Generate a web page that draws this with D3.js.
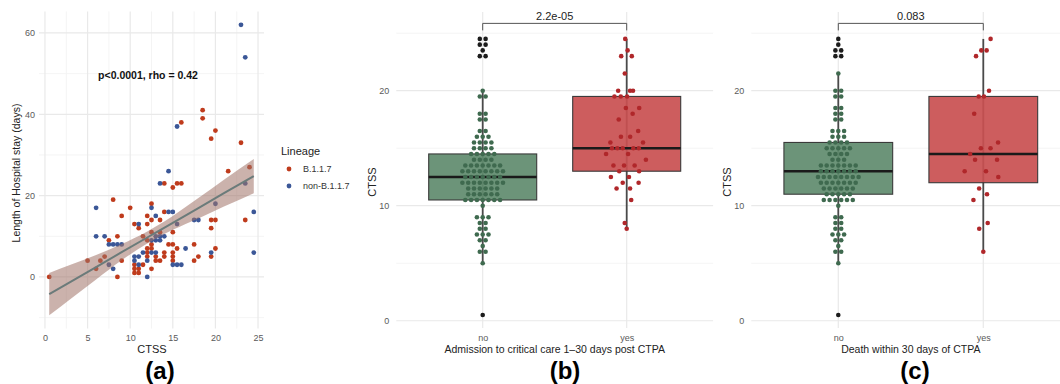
<!DOCTYPE html>
<html>
<head>
<meta charset="utf-8">
<script src="https://cdn.jsdelivr.net/npm/d3@7"></script>
<style>
  body { margin: 0; background: #fff; }
  svg { display: block; font-family: "Liberation Sans", Arial, sans-serif; }
</style>
</head>
<body>
<svg id="chart"></svg>
<script>
// DATA
const lineages = ["B.1.1.7", "non-B.1.1.7"];
const b117Ctss = [0.5, 5, 6, 6.5, 7, 7.5, 8, 8.5, 8.5, 9, 9, 10, 10.5, 11, 12, 12, 12.5, 12.5, 13.5, 14, 14, 15, 15.5, 16, 16,
  18.5, 18.5, 19.5, 20, 23, 21.5, 24, 23.5, 19.5, 20, 19.5, 20, 19.5, 17.5, 18, 17.5, 15, 14.5, 15, 15.5, 15, 15, 15, 14, 14,
  11.5, 12.5, 12.5, 12, 12, 12, 13.5, 13, 13, 12.5, 10.5, 10.5, 10.5, 11, 11, 11.5, 12.5, 13.5, 12];
const b117Stay = [0, 4, 2, 4, 5, 9, 19, 10, 0, 15, 4, 17, 13, 12, 13, 15, 18, 14, 14, 16, 23, 22, 23, 23, 38,
  41, 39, 34, 36, 33, 26, 27, 14, 14, 14, 12, 7, 5, 8, 5, 4, 11, 8, 8, 7, 6, 5, 4, 6, 5,
  10, 8, 7, 7, 6, 5, 4, 5, 4, 2, 3, 2, 1, 2, 1, 3, 11, 11, 9];
const nonCtss = [23, 23.5, 15.5, 14.5, 13.5, 23.5, 20, 24.5, 24.5, 6, 6, 7, 7.5, 8, 8.5, 9, 7.5, 8, 12, 11, 12.5, 13, 14.5, 15,
  15.5, 17.5, 18, 19.5, 16.5, 15, 15.5, 16, 10.5, 10.5, 11, 11.5, 12, 13, 12.5, 13, 13.5, 14, 13, 13.5, 11, 12.5];
const nonStay = [62, 54, 37, 26, 23, 23, 18, 16, 6, 17, 10, 10, 8, 8, 8, 8, 3, 2, 0, 13, 17, 15, 16, 16,
  13, 14, 14, 6, 7, 3, 3, 3, 5, 4, 3, 6, 4, 6, 9, 10, 10, 10, 9, 9, 5, 6];

// fitted line and confidence band
const fitCtss = [0.5, 3, 6, 9, 12, 13, 15, 18, 21, 24.5];
const fitLow = [-9.4, -5.4, -0.6, 4.1, 8.2, 9.4, 11.6, 14.4, 17.3, 20.6];
const fitMid = [-4.2, -1.2, 2.4, 6.1, 9.7, 10.9, 13.3, 16.9, 20.6, 24.8];
const fitHigh = [1.0, 3.0, 5.4, 8.1, 11.2, 12.4, 15.0, 19.4, 23.9, 29.0];

const groups = ["no", "yes"];
// CTSS per patient, admission to critical care
const critNo = [0.5, 5, 6, 6, 6.5, 7, 7, 7.5, 7.5, 7.5, 8, 8, 8.5, 8.5, 9, 9, 9, 10,
  10.5, 10.5, 10.5, 10.5, 10.5, 10.5, 10.5, 11, 11, 11, 11, 11, 11, 11.5, 11.5, 11.5, 11.5, 11.5, 11.5,
  12, 12, 12, 12, 12, 12, 12, 12, 12.5, 12.5, 12.5, 12.5, 12.5, 12.5, 12.5,
  13, 13, 13, 13, 13, 13, 13, 13, 13.5, 13.5, 13.5, 13.5, 13.5, 13.5, 13.5,
  14, 14, 14, 14, 14.5, 14.5, 14.5, 14.5, 14.5, 15, 15, 15, 15, 15.5, 15.5, 15.5, 15.5,
  16, 16, 16, 16.5, 16.5, 17.5, 17.5, 18, 18, 19.5, 19.5, 20, 23, 23, 23.5, 24, 24, 24.5, 24.5];
const critYes = [8, 8.5, 10.5, 11.5, 11.5, 12, 12, 12.5, 12.5, 13, 13, 13.5, 13.5, 13.5, 14, 14.5, 14.5,
  15, 15, 15, 15, 15, 15.5, 15.5, 16, 16, 16.5, 17.5, 18, 18.5, 18.5, 19.5, 19.5, 19.5,
  20, 20, 20, 21.5, 23, 23, 23.5, 24.5];
// CTSS per patient, death within 30 days
const deathNo = [0.5, 5, 6, 6, 6.5, 7, 7, 7.5, 7.5, 7.5, 8, 8, 8.5, 8.5, 9, 9, 10,
  10.5, 10.5, 10.5, 10.5, 10.5, 10.5, 11, 11, 11, 11, 11, 11.5, 11.5, 11.5, 11.5, 11.5, 11.5,
  12, 12, 12, 12, 12, 12, 12, 12.5, 12.5, 12.5, 12.5, 12.5, 12.5, 12.5, 12.5,
  13, 13, 13, 13, 13, 13, 13, 13.5, 13.5, 13.5, 13.5, 13.5, 13.5, 13.5,
  14, 14, 14, 14.5, 14.5, 14.5, 14.5, 15, 15, 15, 15, 15, 15.5, 15.5, 15.5, 15.5,
  16, 16, 16, 16.5, 16.5, 16.5, 17.5, 17.5, 18, 18, 18.5, 18.5, 19.5, 19.5, 20, 20, 21.5,
  23, 23, 23.5, 23.5, 24, 24.5];
const deathYes = [6, 8, 8.5, 10.5, 11, 11.5, 12.5, 13, 13, 14, 14, 14.5, 15, 15, 15.5, 18, 19.5, 19.5, 20,
  23, 23.5, 23.5, 24.5];

// box stats: [whisker low, Q1, median, Q3, whisker high]
const critStatsNo = [5, 10.5, 12.5, 14.5, 20];
const critStatsYes = [8, 13, 15, 19.5, 24.5];
const deathStatsNo = [5, 11, 13, 15.5, 21.5];
const deathStatsYes = [6, 12, 14.5, 19.5, 24.5];
const critP = "2.2e-05";
const deathP = "0.083";

const scatterXTicks = [0, 5, 10, 15, 20, 25];
const scatterXMinor = [2.5, 7.5, 12.5, 17.5, 22.5];
const scatterYTicks = [0, 20, 40, 60];
const scatterYMinor = [-10, 10, 30, 50];
const boxYTicks = [0, 10, 20];
const boxYMinor = [5, 15, 25];

// SIZES
const width = 1060;
const height = 384;
const gridMajor = "#e9e9e9";
const gridMinor = "#f1f1f1";
const tickColor = "#5a5a5a";
const lineageColor = d3.scaleOrdinal().domain(lineages).range(["#bf3b1c", "#3b5797"]);

const svg = d3.select("#chart")
  .attr("width", width)
  .attr("height", height);

// helper for the grid
function drawGrid(g, x, y, xMaj, xMin, yMaj, yMin) {
  const [x0, x1] = x.range();
  const [y0, y1] = y.range();
  g.selectAll(".gxm").data(xMin).enter().append("line")
    .attr("x1", d => x(d)).attr("x2", d => x(d)).attr("y1", y0).attr("y2", y1)
    .attr("stroke", gridMinor).attr("stroke-width", 0.8);
  g.selectAll(".gym").data(yMin).enter().append("line")
    .attr("y1", d => y(d)).attr("y2", d => y(d)).attr("x1", x0).attr("x2", x1)
    .attr("stroke", gridMinor).attr("stroke-width", 0.8);
  g.selectAll(".gx").data(xMaj).enter().append("line")
    .attr("x1", d => x(d)).attr("x2", d => x(d)).attr("y1", y0).attr("y2", y1)
    .attr("stroke", gridMajor).attr("stroke-width", 1.2);
  g.selectAll(".gy").data(yMaj).enter().append("line")
    .attr("y1", d => y(d)).attr("y2", d => y(d)).attr("x1", x0).attr("x2", x1)
    .attr("stroke", gridMajor).attr("stroke-width", 1.2);
}

function styleAxis(sel) {
  sel.select(".domain").remove();
  sel.selectAll("text").attr("fill", tickColor).style("font-size", "9px");
}

// PANEL (a) - SCATTER
const xa = d3.scaleLinear().domain([-0.7, 25.7]).range([39, 264]);
const ya = d3.scaleLinear().domain([-12.7, 65.3]).range([328.6, 11.4]);
const ga = svg.append("g");
drawGrid(ga, xa, ya, scatterXTicks, scatterXMinor, scatterYTicks, scatterYMinor);

ga.append("g").attr("transform", "translate(0,334)")
  .call(d3.axisBottom(xa).tickValues(scatterXTicks).tickSize(0).tickPadding(1))
  .call(styleAxis);
ga.append("g").attr("transform", "translate(36,0)")
  .call(d3.axisLeft(ya).tickValues(scatterYTicks).tickSize(0).tickPadding(1))
  .call(styleAxis);

const points = b117Ctss.map((c, i) => ({ c, s: b117Stay[i], l: lineages[0] }))
  .concat(nonCtss.map((c, i) => ({ c, s: nonStay[i], l: lineages[1] })));

ga.selectAll(".pt").data(points).enter().append("circle")
  .attr("cx", d => xa(d.c)).attr("cy", d => ya(d.s)).attr("r", 2.4)
  .attr("fill", d => lineageColor(d.l));

const band = fitCtss.map((c, i) => ({ c, lo: fitLow[i], mid: fitMid[i], hi: fitHigh[i] }));
ga.append("path").datum(band)
  .attr("d", d3.area().x(d => xa(d.c)).y0(d => ya(d.lo)).y1(d => ya(d.hi)).curve(d3.curveMonotoneX))
  .attr("fill", "#a07268").attr("fill-opacity", 0.55);
ga.append("path").datum(band)
  .attr("d", d3.line().x(d => xa(d.c)).y(d => ya(d.mid)))
  .attr("fill", "none").attr("stroke", "#6b7b7a").attr("stroke-width", 2);

ga.append("text").attr("x", 148).attr("y", 79).attr("text-anchor", "middle")
  .style("font-size", "10.5px").style("font-weight", "bold").attr("fill", "#111")
  .text("p<0.0001, rho = 0.42");

ga.append("text").attr("x", 152).attr("y", 353).attr("text-anchor", "middle")
  .style("font-size", "11px").attr("fill", "#222").text("CTSS");
ga.append("text").attr("transform", "translate(20,173) rotate(-90)").attr("text-anchor", "middle")
  .style("font-size", "10.5px").attr("fill", "#222").text("Length of Hospital stay (days)");

// legend
const lg = ga.append("g").attr("transform", "translate(281,0)");
lg.append("text").attr("x", 0).attr("y", 155).style("font-size", "11px").attr("fill", "#222").text("Lineage");
lg.selectAll(".li").data(lineages).enter().append("circle")
  .attr("cx", 8).attr("cy", (d, i) => 169 + i * 17).attr("r", 2.4).attr("fill", d => lineageColor(d));
lg.selectAll(".lt").data(lineages).enter().append("text")
  .attr("x", 22).attr("y", (d, i) => 172 + i * 17)
  .style("font-size", "9px").attr("fill", "#333").text(d => d);

// PANELS (b) and (c) - BOX + DOTS
// dense group: equal values stacked in centred rows
function stackRows(values) {
  const counts = d3.rollup(values, v => v.length, d => d);
  const seen = new Map();
  return values.map(v => {
    const n = counts.get(v), i = seen.get(v) || 0;
    seen.set(v, i + 1);
    return { v, off: (i - (n - 1) / 2) * 5.8 };
  });
}

// sparse group: quasirandom spread (van der Corput) scaled by density
function vdc(n) {
  let r = 0, f = 0.5;
  while (n > 0) { r += f * (n % 2); n = Math.floor(n / 2); f /= 2; }
  return r;
}
function quasiRandom(values, maxW) {
  const bw = 1.6;
  const dens = v => d3.sum(values, u => Math.exp(-0.5 * ((v - u) / bw) ** 2));
  const sorted = values.slice().sort((a, b) => a - b);
  const dmax = d3.max(sorted, dens);
  return sorted.map((v, i) => ({ v, off: (2 * vdc(i + 1) - 1) * maxW * dens(v) / dmax }));
}

function boxPanel(left, right, valuesNo, valuesYes, statsNo, statsYes, pText, xTitle) {
  const x = d3.scalePoint().domain(groups).range([left, right]).padding(0.6);
  const y = d3.scaleLinear().domain([-0.63, 26.84]).range([328, 12]);
  const g = svg.append("g");
  const step = x.step();
  const boxW = step * 0.75;
  drawGrid(g, x, y, groups, [], boxYTicks, boxYMinor);

  g.append("g").attr("transform", "translate(0,334)")
    .call(d3.axisBottom(x).tickSize(0).tickPadding(1))
    .call(styleAxis);
  g.append("g").attr("transform", `translate(${left - 6},0)`)
    .call(d3.axisLeft(y).tickValues(boxYTicks).tickSize(0).tickPadding(1))
    .call(styleAxis);

  const stats = [statsNo, statsYes];
  const fills = ["#5f8b6e", "#c94f50"];
  const dotFills = ["#3f6a4f", "#b0272a"];

  stats.forEach((s, i) => {
    const cx = x(groups[i]);
    g.append("line").attr("x1", cx).attr("x2", cx).attr("y1", y(s[0])).attr("y2", y(s[4]))
      .attr("stroke", "#4a4a4a").attr("stroke-width", 1.8);
    g.append("rect").attr("x", cx - boxW / 2).attr("width", boxW)
      .attr("y", y(s[3])).attr("height", y(s[1]) - y(s[3]))
      .attr("fill", fills[i]).attr("fill-opacity", 0.92)
      .attr("stroke", "#3a3a3a").attr("stroke-width", 1.1);
    g.append("line").attr("x1", cx - boxW / 2).attr("x2", cx + boxW / 2)
      .attr("y1", y(s[2])).attr("y2", y(s[2]))
      .attr("stroke", "#1a1a1a").attr("stroke-width", 2.4);
  });

  const layouts = [stackRows(valuesNo), quasiRandom(valuesYes, 22)];
  layouts.forEach((pts, i) => {
    const s = stats[i];
    g.selectAll(null).data(pts).enter().append("circle")
      .attr("cx", d => x(groups[i]) + d.off)
      .attr("cy", d => y(d.v))
      .attr("r", 2.3)
      .attr("fill", d => (d.v < s[0] || d.v > s[4]) ? "#1c1c1c" : dotFills[i]);
  });

  // significance bracket
  const by = y(25.85);
  g.append("path")
    .attr("d", `M${x("no")},${by + 7}V${by}H${x("yes")}V${by + 7}`)
    .attr("fill", "none").attr("stroke", "#555").attr("stroke-width", 1);
  g.append("text").attr("x", (x("no") + x("yes")) / 2).attr("y", by - 3)
    .attr("text-anchor", "middle").style("font-size", "11px").attr("fill", "#222").text(pText);

  g.append("text").attr("x", (x("no") + x("yes")) / 2).attr("y", 353).attr("text-anchor", "middle")
    .style("font-size", "10.5px").attr("fill", "#222").text(xTitle);
  g.append("text").attr("transform", `translate(${left - 20},182) rotate(-90)`).attr("text-anchor", "middle")
    .style("font-size", "11px").attr("fill", "#222").text("CTSS");
  return x;
}

const xb = boxPanel(396.3, 713.1, critNo, critYes, critStatsNo, critStatsYes, critP,
  "Admission to critical care 1\u201330 days post CTPA");
const xc = boxPanel(751.3, 1070.3, deathNo, deathYes, deathStatsNo, deathStatsYes, deathP,
  "Death within 30 days of CTPA");

// PANEL LETTERS
const letters = [["(a)", 160], ["(b)", 565], ["(c)", 915]];
svg.selectAll(".letter").data(letters).enter().append("text")
  .attr("x", d => d[1]).attr("y", 379).attr("text-anchor", "middle")
  .style("font-size", "24px").style("font-weight", "bold").attr("fill", "#000")
  .text(d => d[0]);
</script>
</body>
</html>
